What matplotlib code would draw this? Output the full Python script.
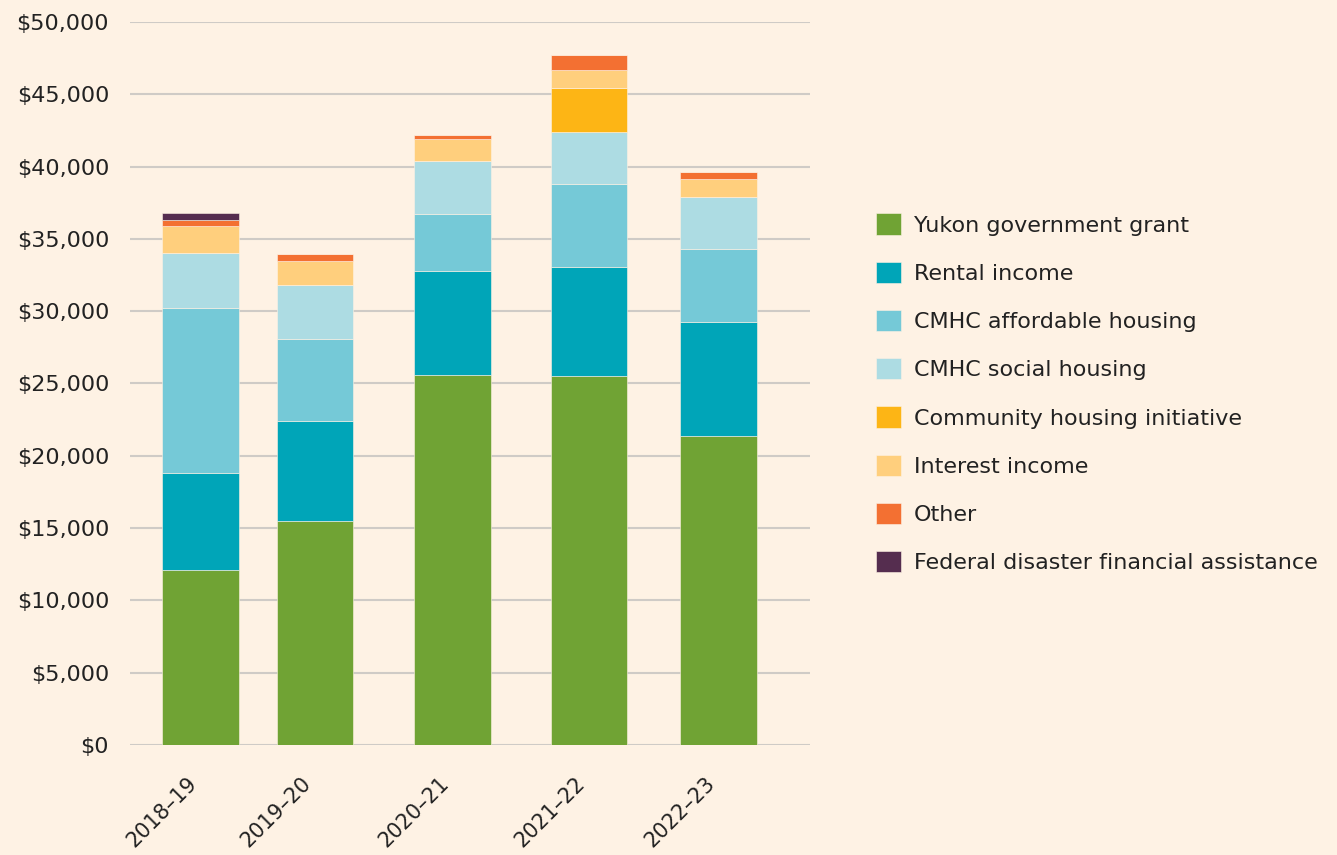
import numpy as np
import matplotlib.pyplot as plt
import matplotlib.transforms as mtransforms

# fiscal years and revenue sources (thousands of dollars)
years = ['2018–19', '2019–20', '2020–21', '2021–22', '2022–23']
yukon_grant = [12100, 15500, 25600, 25500, 21400]
rental = [6700, 6900, 7200, 7550, 7850]
cmhc_affordable = [11400, 5700, 3900, 5750, 5050]
cmhc_social = [3800, 3700, 3700, 3600, 3600]
community_housing = [0, 0, 0, 3000, 0]
interest = [1900, 1700, 1500, 1300, 1250]
other = [400, 450, 250, 1000, 450]
federal_disaster = [500, 0, 0, 0, 0]

series = [
    ('Yukon government grant', yukon_grant, '#70A334'),
    ('Rental income', rental, '#00A5B8'),
    ('CMHC affordable housing', cmhc_affordable, '#75C9D7'),
    ('CMHC social housing', cmhc_social, '#ADDCE3'),
    ('Community housing initiative', community_housing, '#FDB515'),
    ('Interest income', interest, '#FFCF7D'),
    ('Other', other, '#F37032'),
    ('Federal disaster financial assistance', federal_disaster, '#552D4F'),
]

bg = '#FEF2E4'
txt = '#222222'
plt.rcParams['font.family'] = ['DejaVu Sans']

fig = plt.figure(figsize=(13.37, 8.55), dpi=100, facecolor=bg)
ax = fig.add_axes([0.0972, 0.1287, 0.5086, 0.8456], facecolor=bg)

# bar positions (the original spacing is uneven)
xpos = np.array([0, 1.0, 2.205, 3.393, 4.526])
bottom = np.zeros(len(years))
handles = []
for name, vals, col in series:
    vals = np.array(vals, dtype=float)
    b = ax.bar(xpos, vals, bottom=bottom, width=0.672, color=col,
               edgecolor=bg, linewidth=0.4, label=name, zorder=3)
    handles.append(b)
    bottom += vals

ax.set_ylim(0, 50000)
ax.set_xlim(-0.616, 5.323)
ticks = np.arange(0, 50001, 5000)
ax.set_yticks(ticks)
ax.set_yticklabels(['${:,.0f}'.format(v) for v in ticks], fontsize=16, color=txt)
ax.yaxis.grid(True, color='#CFCBC6', linewidth=1.5, zorder=0)
ax.set_axisbelow(True)
ax.tick_params(axis='y', length=0, pad=15)
ax.tick_params(axis='x', length=0, pad=20)
ax.set_xticks(xpos)
ax.set_xticklabels(years, rotation=45, ha='right', va='top',
                   rotation_mode='anchor', fontsize=15, color=txt)
shift = mtransforms.ScaledTranslation(-14 / 100, 0, fig.dpi_scale_trans)
for lab in ax.get_xticklabels():
    lab.set_transform(lab.get_transform() + shift)
for s in ax.spines.values():
    s.set_visible(False)

fig.legend(handles=handles, loc='center left',
           bbox_to_anchor=(0.6405, 0.540), frameon=False,
           fontsize=16, handlelength=1.1, handleheight=1.1,
           handletextpad=0.6, labelspacing=1.17, labelcolor=txt)

fig.savefig('out.png', dpi=100, facecolor=bg)
